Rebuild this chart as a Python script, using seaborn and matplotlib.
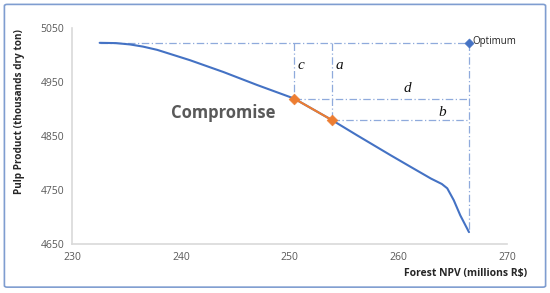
import matplotlib.pyplot as plt
import seaborn as sns
import pandas as pd
from matplotlib.patches import FancyBboxPatch

# pareto front
npv = [232.5, 234.0, 235.3, 236.5, 237.8, 240.8, 243.9, 247.0, 250.4, 253.9, 256.2, 259.3,
       261.1, 263.0, 264.0, 264.5, 265.1, 265.7, 266.5]
pulp = [5022, 5021.5, 5019, 5015, 5009, 4990, 4968, 4944, 4919, 4879, 4851, 4814,
        4793, 4771, 4761, 4753, 4731, 4703, 4672]

comp_npv = [250.4, 253.9]
comp_pulp = [4919, 4879]

opt_npv = 266.5
opt_pulp = 5022

x_ticks = [230, 240, 250, 260, 270]
y_ticks = [4650, 4750, 4850, 4950, 5050]

sns.set_style('white')
plt.rcParams['font.family'] = ['Open Sans', 'DejaVu Sans']

fig = plt.figure(figsize=(5.5, 2.93), dpi=100)
ax = fig.add_axes([0.1318, 0.1672, 0.79, 0.7383])

front = pd.DataFrame({'npv': npv, 'pulp': pulp})
comp = pd.DataFrame({'npv': comp_npv, 'pulp': comp_pulp})

guide = dict(color='#8FAADC', lw=0.9, ls=(0, (6, 2, 1, 2)), zorder=1)
ax.plot([npv[0], opt_npv], [opt_pulp, opt_pulp], **guide)
ax.plot([opt_npv, opt_npv], [opt_pulp, pulp[-1]], **guide)
for xv, yv in zip(comp_npv, comp_pulp):
    ax.plot([xv, xv], [opt_pulp, yv], **guide)
    ax.plot([xv, opt_npv], [yv, yv], **guide)

sns.lineplot(data=front, x='npv', y='pulp', sort=False, color='#4472C4', lw=1.5, ax=ax, zorder=2)
sns.lineplot(data=comp, x='npv', y='pulp', sort=False, color='#ED7D31', lw=1.5, ax=ax, zorder=3)
sns.scatterplot(data=comp, x='npv', y='pulp', marker='D', color='#ED7D31', s=30, edgecolor='#ED7D31', ax=ax, zorder=4)
sns.scatterplot(x=[opt_npv], y=[opt_pulp], marker='D', color='#4472C4', s=22, edgecolor='#4472C4', ax=ax, zorder=4)

ax.text(opt_npv + 0.3, opt_pulp + 2, 'Optimum', fontsize=7, va='center', ha='left', color='#222222')
serif = dict(family=['Liberation Serif', 'DejaVu Serif'], style='italic', fontsize=11, color='#111111')
ax.text(250.7, 4980, 'c', ha='left', va='center', **serif)
ax.text(254.2, 4980, 'a', ha='left', va='center', **serif)
ax.text(260.8, 4938, 'd', ha='center', va='center', **serif)
ax.text(264.0, 4893, 'b', ha='center', va='center', **serif)
ax.text(243.9, 4892, 'Compromise', fontsize=12, fontweight='bold', color='#595959', ha='center', va='center')

ax.set_xlim(230, 270)
ax.set_ylim(4650, 5050)
ax.set_xticks(x_ticks)
ax.set_yticks(y_ticks)
ax.tick_params(length=0, labelsize=7.5, labelcolor='#595959', pad=6)
ax.set_xlabel('')
ax.set_ylabel('')
sns.despine(ax=ax)
for side in ['left', 'bottom']:
    ax.spines[side].set_color('#D9D9D9')
    ax.spines[side].set_linewidth(1.2)

fig.text(0.958, 0.065, 'Forest NPV (millions R$)', fontsize=7.5, fontweight='bold', ha='right', va='center')
fig.text(0.035, 0.62, 'Pulp Product (thousands dry ton)', fontsize=7.2, fontweight='bold', rotation=90, ha='center', va='center')

border = FancyBboxPatch((0.008, 0.02), 0.984, 0.965, boxstyle='round,pad=0,rounding_size=0.005',
                        transform=fig.transFigure, fill=False, edgecolor='#7F9DD0', lw=1.2)
fig.patches.append(border)

fig.savefig('out.png', dpi=100)
